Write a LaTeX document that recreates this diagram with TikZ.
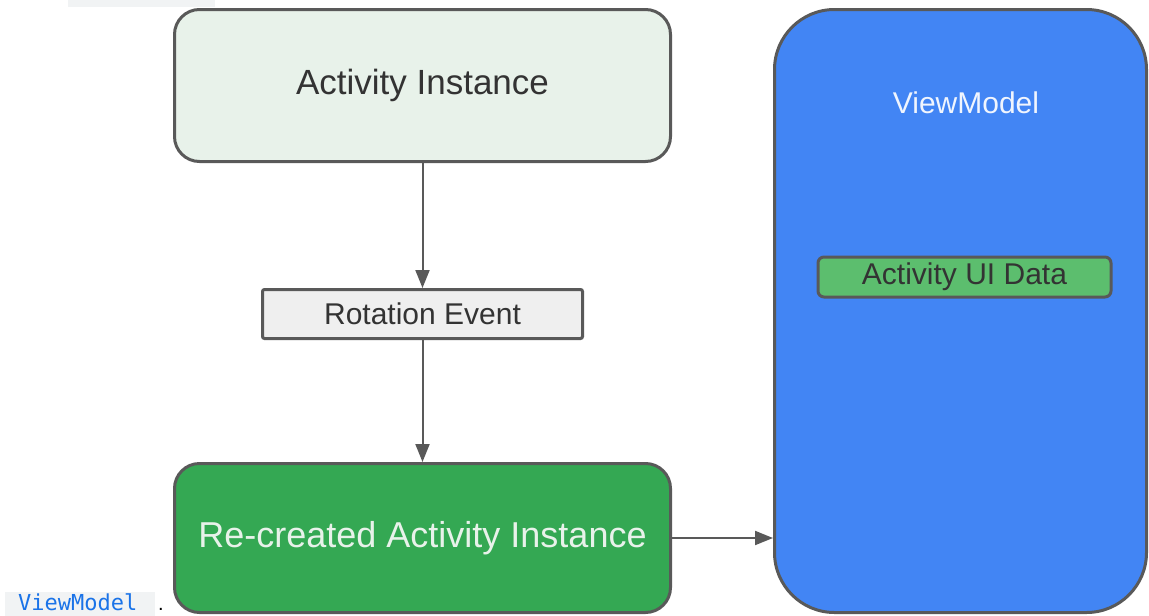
\documentclass[tikz,border=0pt]{standalone}
\usepackage{fontspec}
\setmainfont{Liberation Sans}
\newfontfamily\codefont{DejaVu Sans Mono}
\usetikzlibrary{arrows.meta}
\definecolor{bordergray}{HTML}{595959}
\definecolor{paleGreen}{HTML}{E8F2EA}
\definecolor{eventGray}{HTML}{EFEFEF}
\definecolor{darkGreen}{HTML}{34A853}
\definecolor{vmBlue}{HTML}{4285F4}
\definecolor{dataGreen}{HTML}{5CBE6E}
\definecolor{codeBlue}{HTML}{1A73E8}
\definecolor{codeBg}{HTML}{F1F3F4}
\definecolor{textDark}{HTML}{333333}
\tikzset{
  boxstyle/.style={draw=bordergray, line width=3pt, align=center, inner sep=0pt},
  arr/.style={draw=bordergray, line width=2pt, -{Triangle[length=18pt,width=14pt]}},
}
\begin{document}
\begin{tikzpicture}[x=1pt,y=-1pt]
\useasboundingbox (0,0) rectangle (1149,616);
\clip (0,0) rectangle (1149,616);
% cut-off code background at the top
\fill[codeBg] (68,0) rectangle (215,7);
% boxes
\node[boxstyle, fill=paleGreen, minimum width=496, minimum height=152, rounded corners=25, text=textDark]
  (act) at (422.5,85.5) {\fontsize{35}{42}\selectfont Activity Instance};
\node[boxstyle, fill=eventGray, minimum width=320, minimum height=49, rounded corners=2, text=textDark]
  (rot) at (422.5,314) {\fontsize{30}{36}\selectfont Rotation Event};
\node[boxstyle, fill=darkGreen, minimum width=496, minimum height=149, rounded corners=25, text=paleGreen]
  (rec) at (422.5,538) {\fontsize{36}{43}\selectfont Re-created Activity Instance};
\node[boxstyle, fill=vmBlue, minimum width=372, minimum height=603, rounded corners=60]
  (vm) at (960.5,311) {};
\node[text={white!92!vmBlue}, inner sep=0pt] (vmlabel) at (966,103) {\fontsize{30}{36}\selectfont ViewModel};
\node[boxstyle, fill=dataGreen, minimum width=293, minimum height=40, rounded corners=6, text=textDark]
  (data) at (964.5,277) {\fontsize{30}{36}\selectfont Activity UI Data};
% connectors
\draw[arr] (act.south) -- (rot.north);
\draw[arr] (rot.south) -- (rec.north);
\draw[arr] (rec.east) -- (rec.east -| vm.west);
% inline code at the bottom
\fill[codeBg] (5,592) rectangle (155,616);
\node[anchor=base west, inner sep=0pt, text=codeBlue] (code) at (18,610)
  {\codefont\fontsize{22}{26}\selectfont ViewModel};
\node[anchor=base west, inner sep=0pt] (dot) at (158,610) {\fontsize{20}{24}\selectfont .};
\end{tikzpicture}
\end{document}
